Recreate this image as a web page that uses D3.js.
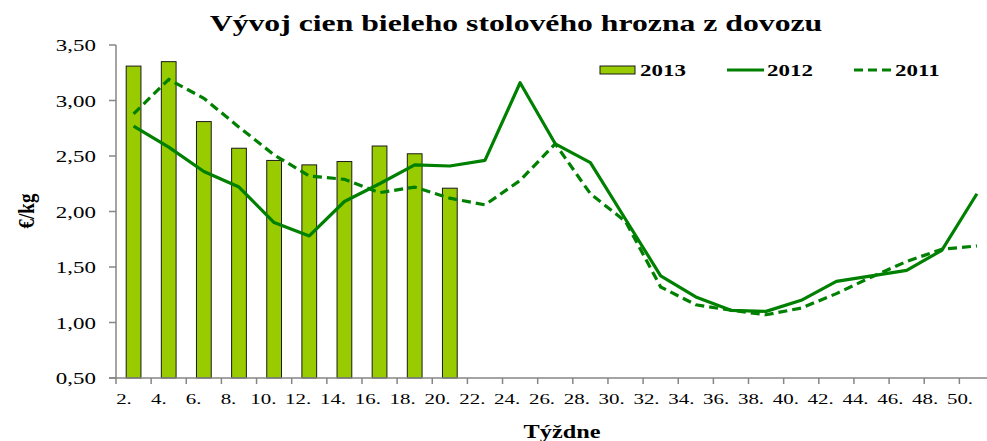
<!DOCTYPE html>
<html lang="sk">
<head>
<meta charset="UTF-8">
<title>Vývoj cien bieleho stolového hrozna z dovozu</title>
<style>
  body { margin: 0; background: #fff; }
  svg { display: block; }
  text { font-family: "Liberation Serif", "Times New Roman", serif; fill: #000; }
  .bold { font-weight: bold; }
  .axis-line { stroke: #868686; stroke-width: 1.5px; fill: none; }
  .line12 { fill: none; stroke: #008000; stroke-width: 3.2px; stroke-linejoin: round; }
  .line11 { fill: none; stroke: #008000; stroke-width: 3.2px; stroke-dasharray: 9,5; }
</style>
</head>
<body>
<svg width="987" height="441"></svg>
<script src="https://cdn.jsdelivr.net/npm/d3@7"></script>
<script>
  var weeks = ["2.", "4.", "6.", "8.", "10.", "12.", "14.", "16.", "18.", "20.", "22.", "24.", "26.",
               "28.", "30.", "32.", "34.", "36.", "38.", "40.", "42.", "44.", "46.", "48.", "50."];
  var price2013 = [3.31, 3.35, 2.81, 2.57, 2.46, 2.42, 2.45, 2.59, 2.52, 2.21];
  var price2012 = [2.77, 2.58, 2.36, 2.22, 1.90, 1.78, 2.09, 2.25, 2.42, 2.41, 2.46, 3.16, 2.61,
                   2.44, 1.93, 1.42, 1.23, 1.11, 1.10, 1.20, 1.37, 1.42, 1.47, 1.65, 2.16];
  var price2011 = [2.88, 3.19, 3.02, 2.76, 2.51, 2.32, 2.29, 2.17, 2.22, 2.12, 2.06, 2.28, 2.61,
                   2.16, 1.91, 1.32, 1.16, 1.11, 1.07, 1.13, 1.26, 1.41, 1.55, 1.66, 1.69];
  var yTicks = [0.5, 1, 1.5, 2, 2.5, 3, 3.5];
  var seriesNames = ["2013", "2012", "2011"];

  var LEFT = 116, TOP = 45, BOTTOM = 378, STEP = 35.14;
  var SX = 1.35; // text in the reference is stretched horizontally

  var svg = d3.select("svg");

  var x = d3.scaleBand()
      .domain(weeks)
      .range([LEFT, LEFT + STEP * weeks.length])
      .paddingInner(0.58)
      .paddingOuter(0.29);
  var y = d3.scaleLinear().domain([0.5, 3.5]).range([BOTTOM, TOP]);
  var labelX = d3.scalePoint().domain(weeks).range([124, 960]);
  var comma = d3.formatLocale({decimal: ",", thousands: " ", grouping: [3], currency: ["", "€"]}).format(".2f");

  function cx(w) { return x(w) + x.bandwidth() / 2; }

  function stretchText(sel, px, py, anchor, size, bold) {
    return sel.append("text")
      .attr("transform", "translate(" + px + "," + py + ") scale(" + SX + ",1)")
      .attr("text-anchor", anchor)
      .attr("font-size", size)
      .attr("class", bold ? "bold" : null);
  }

  // bars 2013
  svg.append("g").selectAll("rect")
    .data(price2013)
    .enter().append("rect")
      .attr("x", function(d, i) { return x(weeks[i]); })
      .attr("y", function(d) { return y(d); })
      .attr("width", x.bandwidth())
      .attr("height", function(d) { return BOTTOM - y(d); })
      .attr("fill", "#99cc00")
      .attr("stroke", "#1a1a1a")
      .attr("stroke-width", 1);

  var line = d3.line()
      .x(function(d, i) { return cx(weeks[i]); })
      .y(function(d) { return y(d); });

  svg.append("path").datum(price2011).attr("class", "line11").attr("d", line);
  svg.append("path").datum(price2012).attr("class", "line12").attr("d", line);

  // axes
  var axes = svg.append("g");
  axes.append("line").attr("class", "axis-line")
    .attr("x1", LEFT).attr("x2", LEFT).attr("y1", TOP).attr("y2", BOTTOM);
  axes.append("line").attr("class", "axis-line")
    .attr("x1", LEFT - 7).attr("x2", x.range()[1]).attr("y1", BOTTOM).attr("y2", BOTTOM);

  axes.selectAll(".ytick")
    .data(yTicks)
    .enter().append("line")
      .attr("class", "axis-line")
      .attr("x1", LEFT - 7).attr("x2", LEFT)
      .attr("y1", function(d) { return y(d); })
      .attr("y2", function(d) { return y(d); });

  yTicks.forEach(function(d) {
    stretchText(axes, 96, y(d) + 6, "end", 17, false).text(comma(d));
  });

  axes.selectAll(".xtick")
    .data(d3.range(weeks.length + 1))
    .enter().append("line")
      .attr("class", "axis-line")
      .attr("x1", function(i) { return x.range()[0] + i * x.step(); })
      .attr("x2", function(i) { return x.range()[0] + i * x.step(); })
      .attr("y1", BOTTOM).attr("y2", BOTTOM + 6);

  weeks.forEach(function(w) {
    stretchText(axes, labelX(w), 403.5, "middle", 15.5, false).text(w);
  });

  // titles
  stretchText(svg, 516, 31, "middle", 23.5, true).text("Vývoj cien bieleho stolového hrozna z dovozu");
  stretchText(svg, 562, 438, "middle", 18, true).text("Týždne");
  svg.append("text")
    .attr("class", "bold")
    .attr("transform", "translate(34,211) scale(1.2,1) rotate(-90)")
    .attr("text-anchor", "middle")
    .attr("font-size", 19)
    .text("€/kg");

  // legend
  var legend = svg.append("g");
  legend.append("rect")
    .attr("x", 600).attr("y", 66).attr("width", 35).attr("height", 8)
    .attr("fill", "#99cc00").attr("stroke", "#1a1a1a").attr("stroke-width", 1);
  legend.append("line").attr("class", "line12")
    .attr("x1", 727).attr("x2", 764).attr("y1", 70).attr("y2", 70);
  legend.append("line").attr("class", "line11")
    .attr("x1", 854).attr("x2", 893).attr("y1", 70).attr("y2", 70);
  [640, 767, 895].forEach(function(px, i) {
    stretchText(legend, px, 76, "start", 17, true).text(seriesNames[i]);
  });
</script>
</body>
</html>
